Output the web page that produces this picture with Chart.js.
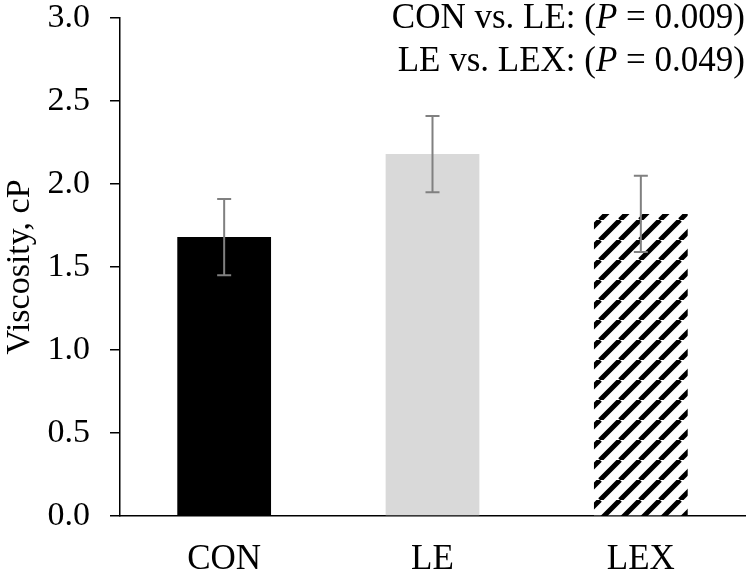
<!DOCTYPE html>
<html>
<head>
<meta charset="utf-8">
<script src="https://cdn.jsdelivr.net/npm/chart.js@4.4.1/dist/chart.umd.min.js"></script>
<style>
  html, body { margin: 0; padding: 0; background: #fff; }
  #wrap { width: 750px; height: 574px; }
</style>
</head>
<body>
<div id="wrap"><canvas id="myChart" width="750" height="574"></canvas></div>
<script>
var groups = ['CON', 'LE', 'LEX'];
var means = [1.68, 2.18, 1.82];
var errors = [0.23, 0.23, 0.23];
var yTicks = [0, 0.5, 1.0, 1.5, 2.0, 2.5, 3.0];
var notes = [
  ['CON vs. LE: (', 'P', ' = 0.009)'],
  ['LE vs. LEX: (', 'P', ' = 0.049)']
];

var serif = '"Liberation Serif", "Times New Roman", serif';

// diagonal stripes for the LEX bar
function makeHatch() {
  var size = 20;
  var c = document.createElement('canvas');
  c.width = size; c.height = size;
  var g = c.getContext('2d');
  g.fillStyle = '#fff';
  g.fillRect(0, 0, size, size);
  g.strokeStyle = '#000';
  g.lineWidth = 5;
  g.beginPath();
  for (var k = -1; k <= 1; k++) {
    g.moveTo(k * size, size);
    g.lineTo(k * size + size, 0);
  }
  g.stroke();
  return document.getElementById('myChart').getContext('2d').createPattern(c, 'repeat');
}

var errorBars = {
  id: 'errorBars',
  afterDatasetsDraw: function(chart) {
    var ctx = chart.ctx;
    var meta = chart.getDatasetMeta(0);
    var y = chart.scales.y;
    ctx.save();
    ctx.strokeStyle = '#808080';
    ctx.lineWidth = 2;
    meta.data.forEach(function(bar, i) {
      var hi = y.getPixelForValue(means[i] + errors[i]);
      var lo = y.getPixelForValue(means[i] - errors[i]);
      ctx.beginPath();
      ctx.moveTo(bar.x, hi); ctx.lineTo(bar.x, lo);
      ctx.moveTo(bar.x - 7, hi); ctx.lineTo(bar.x + 7, hi);
      ctx.moveTo(bar.x - 7, lo); ctx.lineTo(bar.x + 7, lo);
      ctx.stroke();
    });
    ctx.restore();
  }
};

var pNotes = {
  id: 'pNotes',
  afterDraw: function(chart) {
    var ctx = chart.ctx;
    var right = chart.chartArea.right;
    var rows = [19, 62];
    ctx.save();
    ctx.fillStyle = '#000';
    ctx.textBaseline = 'middle';
    notes.forEach(function(parts, r) {
      var fonts = ['35px ' + serif, 'italic 35px ' + serif, '35px ' + serif];
      var widths = parts.map(function(p, i) { ctx.font = fonts[i]; return ctx.measureText(p).width; });
      var x = right - widths.reduce(function(a, b) { return a + b; }, 0);
      parts.forEach(function(p, i) {
        ctx.font = fonts[i];
        ctx.textAlign = 'left';
        ctx.fillText(p, x, rows[r]);
        x += widths[i];
      });
    });
    ctx.restore();
  }
};

var ctx = document.getElementById('myChart').getContext('2d');
var myChart = new Chart(ctx, {
  type: 'bar',
  data: {
    labels: groups,
    datasets: [{
      data: means,
      backgroundColor: ['#000000', '#d9d9d9', makeHatch()],
      borderWidth: 0,
      categoryPercentage: 1.0,
      barPercentage: 0.45
    }]
  },
  options: {
    responsive: false,
    animation: false,
    layout: { padding: { top: 0, right: 5, left: 0, bottom: 0 } },
    plugins: {
      legend: { display: false },
      tooltip: { enabled: false }
    },
    scales: {
      x: {
        grid: { display: false },
        border: { display: true, color: '#000', width: 1.5 },
        ticks: { color: '#000', padding: 15, font: { family: serif, size: 35 } },
        afterFit: function(scale) { scale.height = 58; }
      },
      y: {
        min: 0,
        max: 3,
        afterBuildTicks: function(scale) {
          scale.ticks = yTicks.map(function(v) { return { value: v }; });
        },
        grid: { drawOnChartArea: false, drawTicks: true, tickLength: 10, color: '#000', lineWidth: 1.5 },
        border: { display: true, color: '#000', width: 1.5 },
        ticks: {
          color: '#000',
          padding: 20,
          font: { family: serif, size: 34 },
          callback: function(v) { return Number(v).toFixed(1); }
        },
        title: {
          display: true,
          text: 'Viscosity, cP',
          color: '#000',
          padding: { top: 0, bottom: 0 },
          font: { family: serif, size: 34 }
        },
        afterFit: function(scale) {
          scale.width = 120;
          scale.paddingTop = 18;
          scale.paddingBottom = 0;
        }
      }
    }
  },
  plugins: [errorBars, pNotes]
});
</script>
</body>
</html>
